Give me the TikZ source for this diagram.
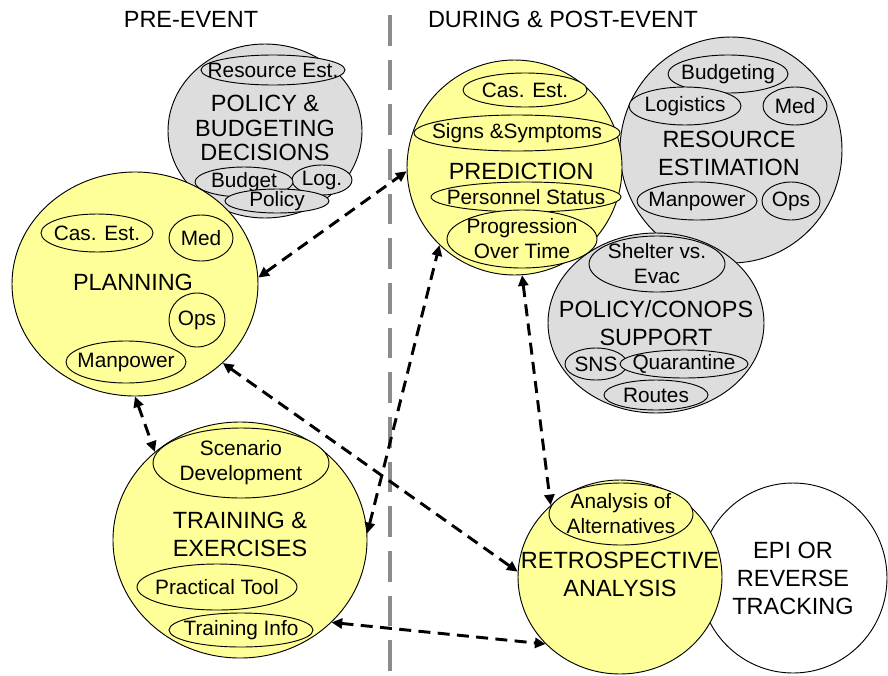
\documentclass[tikz,border=0pt]{standalone}
\usepackage{fontspec}
\setmainfont{Liberation Sans}
\usetikzlibrary{shapes.geometric,arrows.meta,positioning}
\definecolor{padyellow}{HTML}{FFFF99}
\definecolor{padgray}{HTML}{DDDDDD}
\definecolor{divgray}{HTML}{8C8C8C}

\begin{document}
\begin{tikzpicture}[x=0.75pt,y=-0.75pt,
    ball/.style={draw=black, line width=0.7pt, ellipse, inner sep=0pt},
    yball/.style={ball, fill=padyellow},
    gball/.style={ball, fill=padgray},
    wball/.style={ball, fill=white},
    rad/.style 2 args={minimum width=#1*1.5pt, minimum height=#2*1.5pt},
    big/.style={font=\fontsize{17.6pt}{21pt}\selectfont, align=center},
    small/.style={font=\fontsize{15.6pt}{18.75pt}\selectfont, align=center},
    link/.style={{Triangle[length=8pt,width=7.5pt]}-{Triangle[length=8pt,width=7.5pt]}, line width=2.2pt, dash pattern=on 9pt off 5.5pt},
    divider/.style={draw=divgray, line width=3pt, dash pattern=on 23pt off 10.5pt}]
    \useasboundingbox (0,0) rectangle (888,675);

    % time line
    \coordinate (divtop) at (390,15);
    \coordinate (divbot) at (390,675);
    \draw [divider] (divtop) -- (divbot);
    \node [big] (pre) at (191,19) {PRE-EVENT};
    \node [big] (post) at (563,19) {DURING \& POST-EVENT};

    % pre-event
    \node [gball, rad={97}{87}, label={[big,font=\fontsize{17.6pt}{18.4pt}\selectfont,yshift=2pt]center:POLICY \&\\BUDGETING\\DECISIONS}] (pbd) at (265,131) {};
    \node [gball, rad={72}{15}, label={[small]center:Resource Est.}] (pbres) at (273,70) {};
    \node [yball, rad={123}{112}, label={[big,xshift=-1.5pt,yshift=1.5pt]center:PLANNING}] (plan) at (135,284) {};
    \foreach \nm/\x/\y/\rx/\ry/\txt in {plcas/97/233/56/19/{Cas. Est.}, plmed/201/238/32/23/Med,
        plops/197/320/28/27/Ops, plman/126/362/60/21/Manpower}
        \node [yball, rad={\rx}{\ry}, label={[small]center:\txt}] (\nm) at (\x,\y) {};
    \foreach \nm/\x/\y/\rx/\ry/\txt in {pblog/322/180/30/15/Log., pbbud/244/182/49/15/Budget,
        pbpol/277/201/52/12/Policy}
        \node [gball, rad={\rx}{\ry}, label={[small]center:\txt}] (\nm) at (\x,\y) {};

    % during & post-event
    \node [gball, rad={111}{113}, label={[big,xshift=-1.5pt,yshift=-2.6pt]center:RESOURCE\\ESTIMATION}] (resest) at (731,150) {};
    \foreach \nm/\x/\y/\rx/\ry/\txt in {rebud/728/74/60/19/Budgeting, relog/685/106/56/19/Logistics,
        remed/795/106/32/19/Med, reman/697/201/60/19/Manpower, reops/791/201/29/19/Ops}
        \node [gball, rad={\rx}{\ry}, label={[small]center:\txt}] (\nm) at (\x,\y) {};
    \node [gball, rad={108}{90}, label={[big]center:POLICY/CONOPS\\SUPPORT}] (conops) at (656,323) {};
    \foreach \nm/\x/\y/\rx/\ry/\txt in {pcshe/657/264/68/28/{Shelter vs.\\Evac}, pcsns/596/364/31/16/SNS,
        pcqua/684/364/64/14/Quarantine, pcrou/656/395/52/15/Routes}
        \node [gball, rad={\rx}{\ry}, label={[small]center:\txt}] (\nm) at (\x,\y) {};
    \node [yball, rad={107.5}{107.5}, label={[big,xshift=5pt,yshift=-2.6pt]center:PREDICTION}] (pred) at (514.5,167.5) {};
    \foreach \nm/\x/\y/\rx/\ry/\txt in {prcas/525/90/62/17/{Cas. Est.}, prsig/517/133/103/18/{Signs \&Symptoms},
        prper/526/197/95/15/{Personnel Status}, prpro/522/239/75/29/{Progression\\Over Time}}
        \node [yball, rad={\rx}{\ry}, label={[small]center:\txt}] (\nm) at (\x,\y) {};

    \node [yball, rad={127}{118}, label={[big,yshift=4pt]center:TRAINING \&\\EXERCISES}] (train) at (240,540) {};
    \foreach \nm/\x/\y/\rx/\ry/\txt in {trsce/241/463/88/35/{Scenario\\Development},
        trpra/217/587/80/23/{Practical Tool}, trinf/241/630/72/17/{Training Info}}
        \node [yball, rad={\rx}{\ry}, label={[small]center:\txt}] (\nm) at (\x,\y) {};

    \node [wball, rad={94}{95}, label={[big]center:EPI OR\\REVERSE\\TRACKING}] (epi) at (793,578) {};
    \node [yball, rad={102}{97}, label={[big,yshift=2pt]center:RETROSPECTIVE\\ANALYSIS}] (retro) at (620,577) {};
    \node [yball, rad={72}{31}, label={[small]center:Analysis of\\Alternatives}] (rtaoa) at (621,514) {};

    % links
    \draw [link] (plan.3) -- (pred.182);
    \draw [link] (plan.270) -- (train.134);
    \draw [link] (plan.-42) -- (retro.177);
    \draw [link] (train.3) -- (pred.226);
    \draw [link] (pred.-86) -- (retro.134);
    \draw [link] (train.-42) -- (retro.222);
\end{tikzpicture}
\end{document}
